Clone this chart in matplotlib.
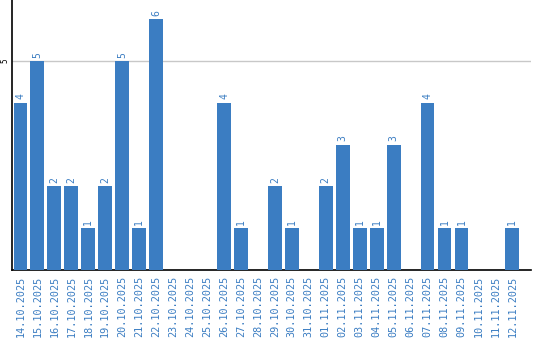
import matplotlib
matplotlib.use("Agg")
import matplotlib.pyplot as plt

dates = ["14.10.2025", "15.10.2025", "16.10.2025", "17.10.2025", "18.10.2025",
         "19.10.2025", "20.10.2025", "21.10.2025", "22.10.2025", "23.10.2025",
         "24.10.2025", "25.10.2025", "26.10.2025", "27.10.2025", "28.10.2025",
         "29.10.2025", "30.10.2025", "31.10.2025", "01.11.2025", "02.11.2025",
         "03.11.2025", "04.11.2025", "05.11.2025", "06.11.2025", "07.11.2025",
         "08.11.2025", "09.11.2025", "10.11.2025", "11.11.2025", "12.11.2025"]
counts = [4, 5, 2, 2, 1, 2, 5, 1, 6, 0, 0, 0, 4, 1, 0,
          2, 1, 0, 2, 3, 1, 1, 3, 0, 4, 1, 1, 0, 0, 1]

blue = "#3b7dc2"
font = "DejaVu Sans Mono"

fig = plt.figure(figsize=(5.4, 3.4), dpi=100)
ax = fig.add_axes([12 / 540, 0.206, 519 / 540, 0.794])

x = list(range(len(dates)))
ax.bar(x, counts, width=0.82, color=blue, zorder=3)

for xi, c in zip(x, counts):
    if c > 0:
        ax.text(xi, c + 0.08, str(c), rotation=90, ha="center", va="bottom",
                color=blue, fontsize=7, family=font)

ax.set_xlim(-0.5, 30.1)
ax.set_ylim(0, 6.46)
ax.axhline(5, color="#c8c8c8", lw=1, zorder=1)

ax.set_xticks(x)
ax.set_xticklabels(dates, rotation=90, color=blue, fontsize=7.3, family=font)
ax.set_yticks([5])
ax.set_yticklabels(["5"], rotation=90, va="center", fontsize=5.5, family=font)
ax.tick_params(axis="y", length=0, pad=2)
ax.tick_params(axis="x", length=0, pad=4)

for s in ["top", "right"]:
    ax.spines[s].set_visible(False)
ax.spines["left"].set_linewidth(1.2)
ax.spines["bottom"].set_linewidth(1.2)

fig.savefig("out.png", dpi=100)
